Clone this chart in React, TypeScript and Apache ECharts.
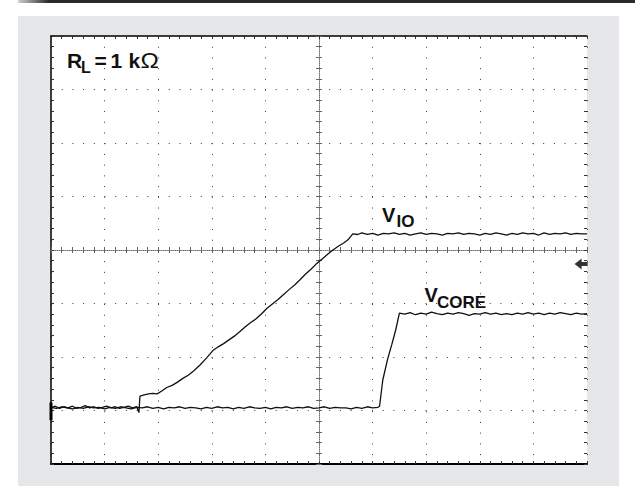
import React, { useEffect, useRef } from "react";
import * as echarts from "echarts";

// Oscilloscope screen: 10 horizontal x 8 vertical divisions
const X_MIN = 0;
const X_MAX = 10;
const Y_MIN = 0;
const Y_MAX = 8;
const MINOR_PER_DIV = 5;

// V_IO trace (x in divisions, y in divisions from bottom)
const vioTrace: [number, number][] = [
  [0.0, 1.05], [0.08, 1.08], [0.16, 1.04], [0.24, 1.07], [0.32, 1.05], [0.4, 1.08], [0.48, 1.04],
  [0.56, 1.06], [0.64, 1.09], [0.72, 1.05], [0.8, 1.07], [0.88, 1.04], [0.96, 1.06], [1.04, 1.08],
  [1.12, 1.05], [1.2, 1.07], [1.28, 1.04], [1.36, 1.06], [1.44, 1.08], [1.52, 1.05], [1.6, 1.07],
  [1.64, 0.96], [1.66, 1.27], [1.74, 1.29], [1.82, 1.31], [1.9, 1.32], [1.98, 1.31], [2.06, 1.36],
  [2.16, 1.43], [2.26, 1.47], [2.36, 1.53], [2.46, 1.6], [2.56, 1.66], [2.66, 1.74], [2.78, 1.85],
  [2.9, 1.98], [3.02, 2.12], [3.12, 2.19], [3.22, 2.25], [3.32, 2.32], [3.42, 2.39], [3.52, 2.47],
  [3.62, 2.56], [3.72, 2.64], [3.82, 2.71], [3.92, 2.8], [4.03, 2.91], [4.13, 2.99], [4.23, 3.07],
  [4.33, 3.16], [4.43, 3.25], [4.55, 3.35], [4.65, 3.45], [4.75, 3.55], [4.85, 3.64], [4.96, 3.75],
  [5.06, 3.83], [5.16, 3.92], [5.26, 4.0], [5.36, 4.07], [5.46, 4.13], [5.54, 4.19], [5.63, 4.3],
  [5.72, 4.29], [5.8, 4.32], [5.9, 4.29], [6.0, 4.31], [6.1, 4.28], [6.2, 4.31], [6.3, 4.3],
  [6.4, 4.32], [6.5, 4.29], [6.6, 4.31], [6.7, 4.28], [6.8, 4.3], [6.9, 4.32], [7.0, 4.29],
  [7.1, 4.31], [7.2, 4.3], [7.3, 4.28], [7.4, 4.31], [7.5, 4.3], [7.6, 4.32], [7.7, 4.29],
  [7.8, 4.31], [7.9, 4.3], [8.0, 4.28], [8.1, 4.31], [8.2, 4.29], [8.3, 4.32], [8.4, 4.3],
  [8.5, 4.28], [8.6, 4.31], [8.7, 4.29], [8.8, 4.32], [8.9, 4.3], [9.0, 4.31], [9.1, 4.28],
  [9.2, 4.32], [9.3, 4.29], [9.4, 4.31], [9.5, 4.3], [9.6, 4.32], [9.7, 4.29], [9.8, 4.31],
  [9.9, 4.3], [10.0, 4.3],
];

// V_CORE trace
const vcoreTrace: [number, number][] = [
  [0.0, 1.06], [0.1, 1.04], [0.2, 1.07], [0.3, 1.05], [0.4, 1.03], [0.5, 1.06], [0.6, 1.04],
  [0.7, 1.07], [0.8, 1.05], [0.9, 1.06], [1.0, 1.03], [1.1, 1.06], [1.2, 1.04], [1.3, 1.07],
  [1.4, 1.05], [1.5, 1.03], [1.6, 1.06], [1.7, 1.05], [1.8, 1.07], [1.9, 1.04], [2.0, 1.06],
  [2.1, 1.03], [2.2, 1.06], [2.3, 1.05], [2.4, 1.07], [2.5, 1.04], [2.6, 1.06], [2.7, 1.05],
  [2.8, 1.03], [2.9, 1.06], [3.0, 1.04], [3.1, 1.07], [3.2, 1.05], [3.3, 1.06], [3.4, 1.03],
  [3.5, 1.06], [3.6, 1.04], [3.7, 1.07], [3.8, 1.05], [3.9, 1.04], [4.0, 1.06], [4.1, 1.03],
  [4.2, 1.06], [4.3, 1.05], [4.4, 1.07], [4.5, 1.04], [4.6, 1.06], [4.7, 1.05], [4.8, 1.07],
  [4.9, 1.04], [5.0, 1.05], [5.1, 1.07], [5.2, 1.04], [5.3, 1.06], [5.4, 1.05], [5.5, 1.05],
  [5.6, 1.03], [5.7, 1.06], [5.8, 1.04], [5.9, 1.07], [6.0, 1.05], [6.1, 1.06], [6.13, 1.08],
  [6.19, 1.57], [6.28, 1.96], [6.36, 2.24], [6.43, 2.5], [6.5, 2.82], [6.6, 2.8], [6.7, 2.83],
  [6.8, 2.79], [6.9, 2.82], [7.0, 2.8], [7.1, 2.84], [7.2, 2.81], [7.3, 2.79], [7.4, 2.82],
  [7.5, 2.8], [7.6, 2.83], [7.7, 2.81], [7.8, 2.78], [7.9, 2.81], [8.0, 2.8], [8.1, 2.83],
  [8.2, 2.8], [8.3, 2.82], [8.4, 2.79], [8.5, 2.81], [8.6, 2.79], [8.7, 2.82], [8.8, 2.8],
  [8.9, 2.83], [9.0, 2.8], [9.1, 2.82], [9.2, 2.79], [9.3, 2.82], [9.4, 2.8], [9.5, 2.83],
  [9.6, 2.81], [9.7, 2.79], [9.8, 2.82], [9.9, 2.8], [10.0, 2.81],
];

// Channel ground marker on the left edge, reference arrow on the right edge
const groundMarker: [number, number][] = [[0, 1.15], [0, 0.82]];
const refArrow: [number, number][] = [[9.89, 3.74]];

const FONT = "'Liberation Sans', Arial, Helvetica, sans-serif";
const INK = "#111111";
const GRID_DOT = "#3a3a3a";
const CENTER_DOT = "#707070";

const GRID_LEFT = 51;
const GRID_TOP = 36;
const GRID_W = 536;
const GRID_H = 428;

function valueAxis(min: number, max: number, extra: any) {
  return {
    type: "value",
    min,
    max,
    interval: 1,
    z: 2,
    axisLabel: { show: false },
    splitLine: { show: false },
    ...extra,
  };
}

function tickSet(inside: boolean, len: number, color: string) {
  return {
    axisTick: { show: true, inside, length: len, lineStyle: { color, width: 1 } },
    minorTick: { show: true, splitNumber: MINOR_PER_DIV, length: len, lineStyle: { color, width: 1 } },
  };
}

function txt(text: string, x: number, y: number, size: number, weight: string, scaleX = 1) {
  return {
    type: "text",
    x,
    y,
    scaleX,
    z: 100,
    silent: true,
    style: {
      text,
      fontSize: size,
      fontWeight: weight,
      fontFamily: FONT,
      fill: INK,
      align: "left",
      verticalAlign: "middle",
      textAlign: "left",
      textVerticalAlign: "middle",
    },
  };
}

export default function App() {
  const ref = useRef<HTMLDivElement>(null);

  useEffect(() => {
    if (!ref.current) return;
    const chart = echarts.init(ref.current, undefined, { renderer: "svg" });
    const xDash = GRID_W / (X_MAX - X_MIN) / MINOR_PER_DIV;
    const yDash = GRID_H / (Y_MAX - Y_MIN) / MINOR_PER_DIV;

    chart.setOption({
      animation: false,
      backgroundColor: "#ffffff",
      grid: {
        left: GRID_LEFT,
        top: GRID_TOP,
        width: GRID_W,
        height: GRID_H,
        show: false,
      },
      xAxis: [
        valueAxis(X_MIN, X_MAX, {
          position: "bottom",
          axisLine: { show: true, onZero: false, lineStyle: { color: "#000", width: 2 } },
          ...tickSet(true, 3, "#333"),
          splitLine: { show: true, lineStyle: { color: GRID_DOT, width: 1, type: [1, xDash - 1] } },
        }),
        valueAxis(X_MIN, X_MAX, {
          position: "top",
          axisLine: { show: true, onZero: false, lineStyle: { color: "#000", width: 1.5 } },
          ...tickSet(true, 3, "#333"),
        }),
        valueAxis(X_MIN, X_MAX, {
          position: "bottom",
          offset: -GRID_H / 2,
          axisLine: { show: true, onZero: false, lineStyle: { color: CENTER_DOT, width: 1, type: [1, 1] } },
          ...tickSet(true, 3, "#666"),
        }),
        valueAxis(X_MIN, X_MAX, {
          position: "bottom",
          offset: -GRID_H / 2,
          axisLine: { show: false, onZero: false },
          ...tickSet(false, 3, "#666"),
        }),
      ],
      yAxis: [
        valueAxis(Y_MIN, Y_MAX, {
          position: "left",
          axisLine: { show: true, onZero: false, lineStyle: { color: "#000", width: 1.5 } },
          ...tickSet(true, 3, "#333"),
          splitLine: { show: true, lineStyle: { color: GRID_DOT, width: 1, type: [1, yDash - 1] } },
        }),
        valueAxis(Y_MIN, Y_MAX, {
          position: "right",
          axisLine: { show: false, onZero: false },
          ...tickSet(true, 3, "#333"),
        }),
        valueAxis(Y_MIN, Y_MAX, {
          position: "left",
          offset: -GRID_W / 2,
          axisLine: { show: true, onZero: false, lineStyle: { color: CENTER_DOT, width: 1, type: [1, 1] } },
          ...tickSet(true, 3, "#666"),
        }),
        valueAxis(Y_MIN, Y_MAX, {
          position: "left",
          offset: -GRID_W / 2,
          axisLine: { show: false, onZero: false },
          ...tickSet(false, 3, "#666"),
        }),
      ],
      series: [
        {
          name: "VCORE",
          type: "line",
          xAxisIndex: 0,
          yAxisIndex: 0,
          data: vcoreTrace,
          showSymbol: false,
          symbol: "none",
          lineStyle: { color: INK, width: 1.3 },
          z: 5,
        },
        {
          name: "VIO",
          type: "line",
          xAxisIndex: 0,
          yAxisIndex: 0,
          data: vioTrace,
          showSymbol: false,
          symbol: "none",
          lineStyle: { color: INK, width: 1.3 },
          z: 5,
        },
        {
          name: "ground",
          type: "line",
          xAxisIndex: 0,
          yAxisIndex: 0,
          data: groundMarker,
          showSymbol: false,
          symbol: "none",
          lineStyle: { color: "#000", width: 3 },
          z: 6,
        },
        {
          name: "ref",
          type: "scatter",
          xAxisIndex: 0,
          yAxisIndex: 0,
          data: refArrow,
          symbol: "path://M0,5.5 L7,0 L7,3.5 L13,3.5 L13,7.5 L7,7.5 L7,11 Z",
          symbolSize: [13, 11],
          itemStyle: { color: "#000" },
          z: 6,
        },
      ],
      graphic: [
        {
          type: "rect",
          z: -10,
          silent: true,
          shape: { x: 18, y: 16, width: 601, height: 470 },
          style: { fill: "#e6e7e9" },
        },
        {
          type: "rect",
          z: -9,
          silent: true,
          shape: { x: GRID_LEFT, y: GRID_TOP, width: GRID_W, height: GRID_H },
          style: { fill: "#ffffff" },
        },
        {
          type: "rect",
          z: -10,
          silent: true,
          shape: { x: 18, y: 0, width: 617, height: 3 },
          style: {
            fill: new echarts.graphic.LinearGradient(0, 0, 1, 0, [
              { offset: 0, color: "#d0d0d0" },
              { offset: 0.05, color: "#2a2a2a" },
              { offset: 1, color: "#2a2a2a" },
            ]),
          },
        },
        txt("R", 67, 60, 21, "bold"),
        txt("L", 81, 67, 16, "bold"),
        txt("=", 94.5, 60, 21, "bold"),
        txt("1", 110.5, 60, 21, "bold"),
        txt("k", 128.5, 60, 21, "bold"),
        txt("Ω", 140.5, 60, 22, "normal", 1.12),
        txt("V", 382, 215, 20, "bold"),
        txt("IO", 396.5, 221, 17, "bold"),
        txt("V", 424.5, 295, 20, "bold"),
        txt("CORE", 437, 302, 17, "bold"),
      ],
    });

    return () => chart.dispose();
  }, []);

  return (
    <div
      ref={ref}
      style={{ position: "fixed", left: 0, top: 0, width: 635, height: 499, background: "#ffffff" }}
    />
  );
}
